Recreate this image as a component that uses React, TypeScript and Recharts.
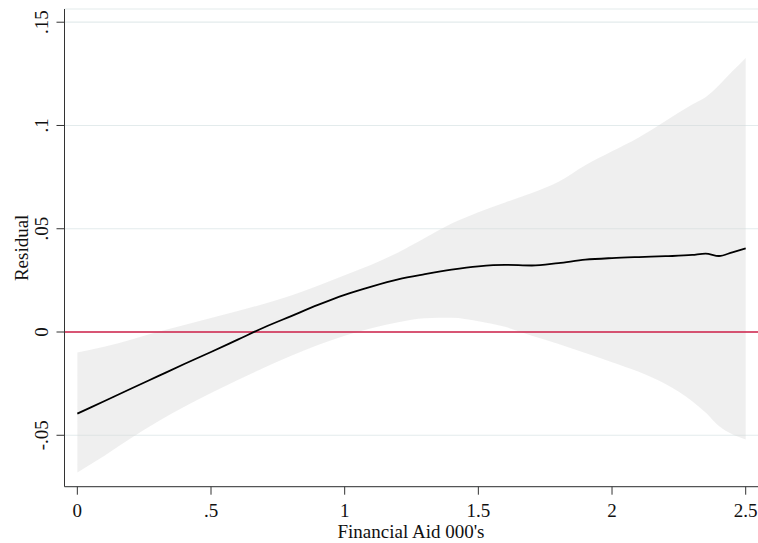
import React from "react";
import { ComposedChart, Area, Line, XAxis, YAxis, CartesianGrid, ReferenceLine } from "recharts";

const xs = [0, 0.1, 0.2, 0.3, 0.4, 0.5, 0.6, 0.7, 0.8, 0.9, 1.0, 1.1, 1.2, 1.3, 1.4, 1.5, 1.6, 1.7, 1.8, 1.9, 2.0, 2.1, 2.2, 2.3, 2.35, 2.4, 2.45, 2.5];
const fitted = [-0.0395, -0.0335, -0.0275, -0.0215, -0.0155, -0.0097, -0.0037, 0.0023, 0.0077, 0.0131, 0.018, 0.022, 0.0255, 0.028, 0.0302, 0.0318, 0.0325, 0.0322, 0.0334, 0.035, 0.0358, 0.0363, 0.0367, 0.0373, 0.038, 0.0368, 0.0386, 0.0405];
const lower = [-0.068, -0.06, -0.0515, -0.0435, -0.0362, -0.0295, -0.0232, -0.0172, -0.0115, -0.0063, -0.0018, 0.0018, 0.0047, 0.0067, 0.0069, 0.0052, 0.0025, -0.0018, -0.0058, -0.0102, -0.0146, -0.0193, -0.0252, -0.0335, -0.039, -0.0455, -0.0495, -0.052];
const upper = [-0.0099, -0.0071, -0.0037, 0.0, 0.0034, 0.0068, 0.0102, 0.0137, 0.0177, 0.0224, 0.0275, 0.0326, 0.0385, 0.0455, 0.0525, 0.058, 0.0627, 0.0673, 0.0728, 0.0808, 0.0875, 0.0942, 0.1022, 0.1102, 0.1137, 0.1195, 0.1262, 0.1327];

const xTicks = [0, 0.5, 1, 1.5, 2, 2.5];
const yTicks = [-0.05, 0, 0.05, 0.1, 0.15];
const xTitle = "Financial Aid 000's";
const yTitle = "Residual";

const data = xs.map((x, i) => ({ x, fit: fitted[i], band: [lower[i], upper[i]] }));

const fmt = (v: number) => {
  if (v === 0) return "0";
  const s = String(Math.abs(v)).replace(/^0/, "");
  return (v < 0 ? "-" : "") + s;
};

const FONT = "'Liberation Serif', 'Times New Roman', serif";

const YTick = (props: any) => {
  const { y, payload } = props;
  return (
    <text
      x={48}
      y={y}
      transform={`rotate(-90, 48, ${y})`}
      textAnchor="middle"
      fontFamily={FONT}
      fontSize={19}
      fill="#111"
    >
      {fmt(payload.value)}
    </text>
  );
};

const XTick = (props: any) => {
  const { x, y, payload } = props;
  return (
    <text x={x} y={y + 22} textAnchor="middle" fontFamily={FONT} fontSize={19} fill="#111">
      {fmt(payload.value)}
    </text>
  );
};

export default function App() {
  return (
    <div style={{ position: "absolute", left: 0, top: 0, width: 758, height: 543, background: "#fff" }}>
      <ComposedChart width={758} height={543} data={data} margin={{ top: 9, right: 0, bottom: 0, left: 0 }}>
        <CartesianGrid horizontal={true} vertical={false} stroke="#e3ebec" strokeWidth={1.2} />
        <ReferenceLine y={0} stroke="#cf1f48" strokeWidth={1.6} />
        <XAxis
          dataKey="x"
          type="number"
          domain={[-0.048, 2.546]}
          ticks={xTicks}
          allowDataOverflow
          height={56.3}
          tickSize={8}
          tickMargin={0}
          stroke="#333"
          tick={<XTick />}
          label={(p: any) => {
            const vb = p.viewBox;
            return (
              <text x={411} y={vb.y + vb.height - 5} textAnchor="middle" fontFamily={FONT} fontSize={19} fill="#111">
                {xTitle}
              </text>
            );
          }}
        />
        <YAxis
          type="number"
          domain={[-0.0749, 0.1564]}
          ticks={yTicks}
          allowDataOverflow
          width={64.5}
          tickSize={8}
          stroke="#333"
          tick={<YTick />}
          label={(p: any) => {
            const vb = p.viewBox;
            const cy = vb.y + vb.height / 2;
            return (
              <text x={28} y={cy} transform={`rotate(-90, 28, ${cy})`} textAnchor="middle" fontFamily={FONT} fontSize={19} fill="#111">
                {yTitle}
              </text>
            );
          }}
        />
        <Area
          dataKey="band"
          type="monotone"
          stroke="none"
          fill="#d6d6d6"
          fillOpacity={0.38}
          isAnimationActive={false}
          activeDot={false}
        />
        <Line
          dataKey="fit"
          type="monotone"
          stroke="#000"
          strokeWidth={1.8}
          dot={false}
          activeDot={false}
          isAnimationActive={false}
        />
      </ComposedChart>
    </div>
  );
}
